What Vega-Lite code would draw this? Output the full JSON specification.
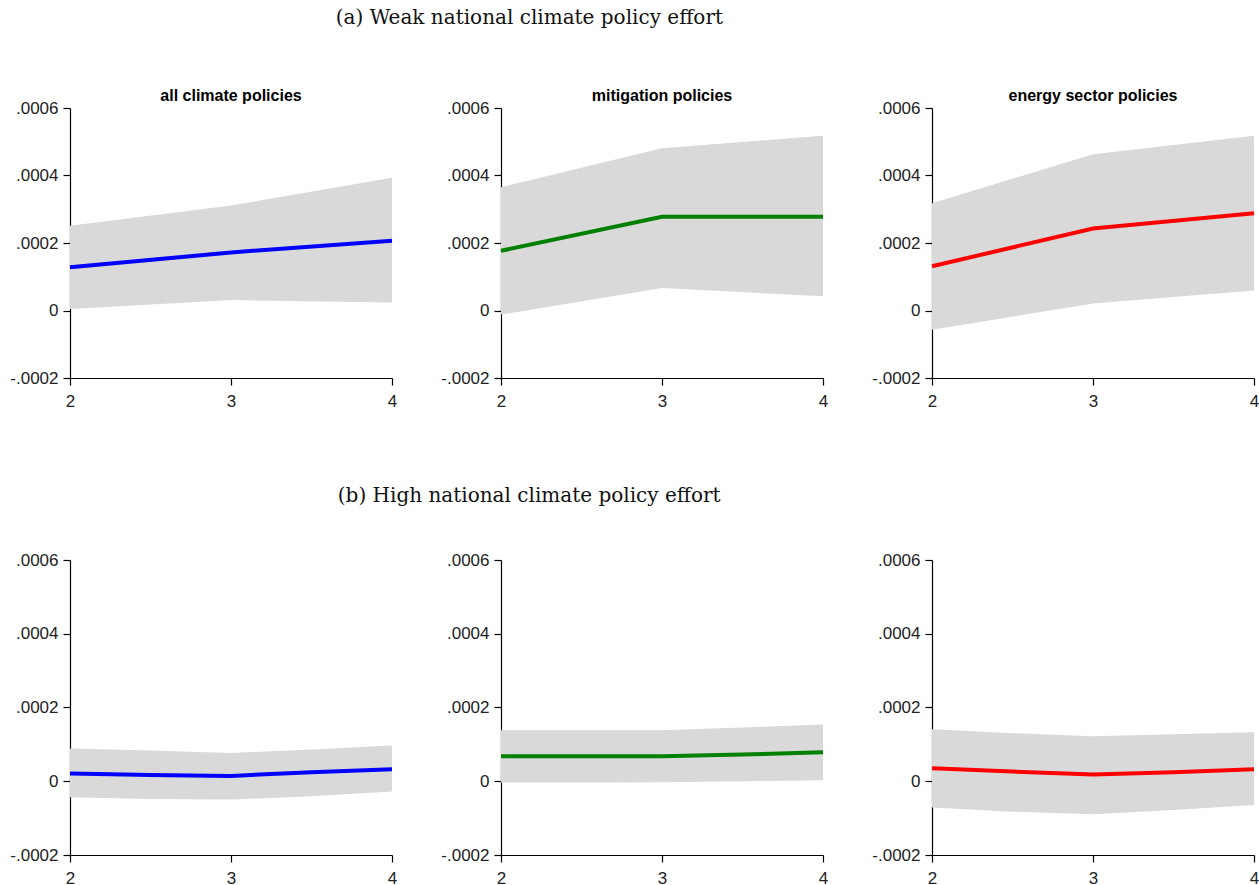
{
  "$schema": "https://vega.github.io/schema/vega-lite/v6.json",
  "padding": {"left": 9, "top": 8, "right": 0, "bottom": 0},
  "background": "white",
  "config": {
    "view": {"stroke": null},
    "font": "Liberation Sans",
    "axis": {
      "grid": false,
      "title": null,
      "domainColor": "#000000",
      "domainWidth": 1.2,
      "tickColor": "#000000",
      "tickWidth": 1.2,
      "tickSize": 7,
      "labelFont": "Liberation Sans",
      "labelFontSize": 17,
      "labelColor": "#222222",
      "labelFlush": false,
      "labelOverlap": false
    }
  },
  "datasets": {
    "ci": [
      {"effort": "weak", "policy": "all climate policies", "x": 2, "est": 0.000128, "lo": 0.0000045, "hi": 0.000251},
      {"effort": "weak", "policy": "all climate policies", "x": 3, "est": 0.000172, "lo": 0.000031, "hi": 0.000311},
      {"effort": "weak", "policy": "all climate policies", "x": 4, "est": 0.000207, "lo": 0.000024, "hi": 0.000393},
      {"effort": "weak", "policy": "mitigation policies", "x": 2, "est": 0.000177, "lo": -0.000012, "hi": 0.000365},
      {"effort": "weak", "policy": "mitigation policies", "x": 3, "est": 0.000278, "lo": 0.000067, "hi": 0.000481},
      {"effort": "weak", "policy": "mitigation policies", "x": 4, "est": 0.000278, "lo": 0.000042, "hi": 0.000518},
      {"effort": "weak", "policy": "energy sector policies", "x": 2, "est": 0.000131, "lo": -0.000057, "hi": 0.000318},
      {"effort": "weak", "policy": "energy sector policies", "x": 3, "est": 0.000243, "lo": 0.000021, "hi": 0.000463},
      {"effort": "weak", "policy": "energy sector policies", "x": 4, "est": 0.000288, "lo": 0.000059, "hi": 0.000518},
      {"effort": "high", "policy": "all climate policies", "x": 2, "est": 0.0000208, "lo": -0.0000434, "hi": 0.0000887},
      {"effort": "high", "policy": "all climate policies", "x": 2.5, "est": 0.0000172, "lo": -0.000048, "hi": 0.0000833},
      {"effort": "high", "policy": "all climate policies", "x": 3, "est": 0.0000145, "lo": -0.0000498, "hi": 0.0000769},
      {"effort": "high", "policy": "all climate policies", "x": 3.5, "est": 0.0000244, "lo": -0.0000407, "hi": 0.000086},
      {"effort": "high", "policy": "all climate policies", "x": 4, "est": 0.0000326, "lo": -0.000028, "hi": 0.0000968},
      {"effort": "high", "policy": "mitigation policies", "x": 2, "est": 0.0000679, "lo": -0.0000036, "hi": 0.0001385},
      {"effort": "high", "policy": "mitigation policies", "x": 2.5, "est": 0.0000679, "lo": -0.0000036, "hi": 0.0001385},
      {"effort": "high", "policy": "mitigation policies", "x": 3, "est": 0.0000679, "lo": -0.0000027, "hi": 0.0001385},
      {"effort": "high", "policy": "mitigation policies", "x": 3.5, "est": 0.0000724, "lo": 0.0, "hi": 0.0001457},
      {"effort": "high", "policy": "mitigation policies", "x": 4, "est": 0.0000787, "lo": 0.0000027, "hi": 0.0001539},
      {"effort": "high", "policy": "energy sector policies", "x": 2, "est": 0.0000353, "lo": -0.0000715, "hi": 0.0001412},
      {"effort": "high", "policy": "energy sector policies", "x": 2.5, "est": 0.0000262, "lo": -0.0000824, "hi": 0.0001303},
      {"effort": "high", "policy": "energy sector policies", "x": 3, "est": 0.0000181, "lo": -0.0000896, "hi": 0.0001222},
      {"effort": "high", "policy": "energy sector policies", "x": 3.5, "est": 0.0000244, "lo": -0.0000778, "hi": 0.0001276},
      {"effort": "high", "policy": "energy sector policies", "x": 4, "est": 0.0000326, "lo": -0.0000643, "hi": 0.000133}
    ]
  },
  "spacing": 77,
  "vconcat": [
    {
      "title": {"text": "(a) Weak national climate policy effort", "font": "DejaVu Serif", "fontSize": 20, "fontWeight": "normal", "color": "#111111", "anchor": "start", "dx": 326, "offset": 60},
      "data": {"name": "ci"},
      "transform": [{"filter": "datum.effort == 'weak'"}],
      "facet": {"column": {"field": "policy", "type": "nominal", "sort": ["all climate policies", "mitigation policies", "energy sector policies"], "header": {"title": null, "labelFont": "Liberation Sans", "labelFontSize": 16, "labelFontWeight": "bold", "labelColor": "#000000", "labelPadding": 4}}},
      "spacing": 109,
      "bounds": "flush",
      "resolve": {"axis": {"y": "independent", "x": "independent"}},
      "spec": {
        "width": 322,
        "height": 270,
        "encoding": {
          "x": {"field": "x", "type": "quantitative", "scale": {"domain": [2, 4], "nice": false, "zero": false}, "axis": {"tickCount": 2, "format": "d", "labelPadding": 8}}
        },
        "layer": [
          {
            "mark": {"type": "area", "color": "#d9d9d9", "opacity": 1},
            "encoding": {
              "y": {"field": "lo", "type": "quantitative", "scale": {"domain": [-0.0002, 0.0006], "nice": false}, "axis": {"values": [-0.0002, 0, 0.0002, 0.0004, 0.0006], "labelPadding": 5, "labelExpr": "datum.value == 0 ? '0' : (datum.value < 0 ? '-' : '') + '.' + format(abs(datum.value) * 10000, '04d')"}},
              "y2": {"field": "hi"}
            }
          },
          {"transform": [{"filter": "datum.x == 2"}], "mark": {"type": "rule", "color": "#000000", "strokeWidth": 1}, "encoding": {"y": {"datum": 0}}},
          {
            "mark": {"type": "line", "strokeWidth": 4},
            "encoding": {
              "y": {"field": "est", "type": "quantitative"},
              "color": {"field": "policy", "type": "nominal", "scale": {"domain": ["all climate policies", "mitigation policies", "energy sector policies"], "range": ["#0000ff", "#008000", "#ff0000"]}, "legend": null}
            }
          }
        ]
      }
    },
    {
      "title": {"text": "(b) High national climate policy effort", "font": "DejaVu Serif", "fontSize": 20, "fontWeight": "normal", "color": "#111111", "anchor": "start", "dx": 328, "offset": 45},
      "data": {"name": "ci"},
      "transform": [{"filter": "datum.effort == 'high'"}],
      "facet": {"column": {"field": "policy", "type": "nominal", "sort": ["all climate policies", "mitigation policies", "energy sector policies"], "header": {"title": null, "labels": false}}},
      "spacing": 109,
      "bounds": "flush",
      "resolve": {"axis": {"y": "independent", "x": "independent"}},
      "spec": {
        "width": 322,
        "height": 295,
        "encoding": {
          "x": {"field": "x", "type": "quantitative", "scale": {"domain": [2, 4], "nice": false, "zero": false}, "axis": {"tickCount": 2, "format": "d", "labelPadding": 8}}
        },
        "layer": [
          {
            "mark": {"type": "area", "color": "#d9d9d9", "opacity": 1},
            "encoding": {
              "y": {"field": "lo", "type": "quantitative", "scale": {"domain": [-0.0002, 0.0006], "nice": false}, "axis": {"values": [-0.0002, 0, 0.0002, 0.0004, 0.0006], "labelPadding": 5, "labelExpr": "datum.value == 0 ? '0' : (datum.value < 0 ? '-' : '') + '.' + format(abs(datum.value) * 10000, '04d')"}},
              "y2": {"field": "hi"}
            }
          },
          {"transform": [{"filter": "datum.x == 2"}], "mark": {"type": "rule", "color": "#000000", "strokeWidth": 1}, "encoding": {"y": {"datum": 0}}},
          {
            "mark": {"type": "line", "strokeWidth": 4},
            "encoding": {
              "y": {"field": "est", "type": "quantitative"},
              "color": {"field": "policy", "type": "nominal", "scale": {"domain": ["all climate policies", "mitigation policies", "energy sector policies"], "range": ["#0000ff", "#008000", "#ff0000"]}, "legend": null}
            }
          }
        ]
      }
    }
  ]
}
